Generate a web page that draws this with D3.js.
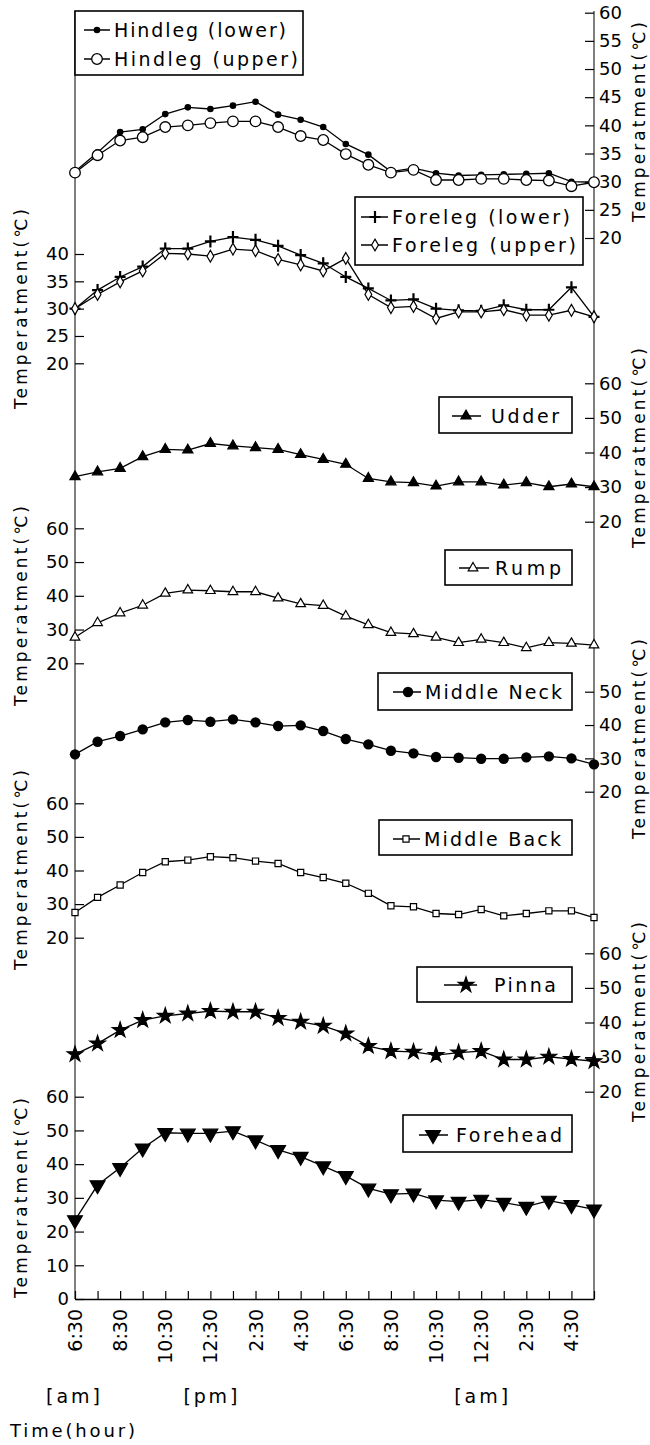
<!DOCTYPE html>
<html><head><meta charset="utf-8">
<script src="https://cdn.jsdelivr.net/npm/d3@7"></script>
<style>
body{margin:0;background:#fff}
svg{display:block}
text{font-family:"DejaVu Sans",Arial,sans-serif;fill:#000}
</style>
</head><body><svg id="c" width="650" height="1445"></svg>
<script>
// ---------- DATA ----------
const categories = ["6:30am","7:30am","8:30am","9:30am","10:30am","11:30am","12:30pm","1:30pm","2:30pm","3:30pm","4:30pm","5:30pm","6:30pm","7:30pm","8:30pm","9:30pm","10:30pm","11:30pm","12:30am","1:30am","2:30am","3:30am","4:30am","5:30am"];
const labelledTimes = ["6:30am","8:30am","10:30am","12:30pm","2:30pm","4:30pm","6:30pm","8:30pm","10:30pm","12:30am","2:30am","4:30am"];
const timeLabels = ["6:30","8:30","10:30","12:30","2:30","4:30","6:30","8:30","10:30","12:30","2:30","4:30"];
const periodLabels = ["[am]","[pm]","[am]"];

const hindlegLower = [31.8,35.2,38.8,39.3,42.0,43.2,42.9,43.5,44.2,41.9,41.0,39.7,36.7,34.8,31.8,32.4,31.5,31.1,31.2,31.3,31.4,31.5,30.0,29.9];
const hindlegUpper = [31.6,34.7,37.3,37.9,39.7,40.0,40.4,40.7,40.7,39.7,38.1,37.4,34.9,33.0,31.6,32.1,30.3,30.3,30.5,30.5,30.3,30.2,29.2,29.9];
const forelegLower = [30.0,33.4,35.8,37.7,41.0,41.0,42.3,43.1,42.6,41.5,39.8,38.3,35.8,33.7,31.5,31.7,30.0,29.7,29.6,30.6,29.8,29.8,33.9,28.5];
const forelegUpper = [30.0,32.6,34.9,36.9,40.1,40.0,39.6,40.9,40.6,39.0,38.0,36.9,39.2,32.6,30.2,30.4,28.2,29.4,29.4,29.8,28.8,28.8,29.7,28.5];
const udder = [33.0,34.4,35.4,38.8,40.9,40.7,42.6,41.9,41.4,40.9,39.4,38.0,36.6,32.5,31.5,31.3,30.3,31.5,31.5,30.6,31.3,30.1,30.9,30.1];
const rump = [27.7,32.0,34.9,37.2,40.7,41.7,41.5,41.2,41.2,39.3,37.6,37.1,34.0,31.4,29.1,28.7,27.7,26.1,27.1,26.1,24.6,26.1,25.9,25.4];
const middleNeck = [31.2,35.0,36.7,38.7,40.8,41.5,41.0,41.7,40.8,39.7,39.9,38.2,35.8,34.2,32.3,31.5,30.4,30.2,29.9,29.9,30.3,30.6,30.0,28.2];
const middleBack = [27.5,32.0,35.7,39.4,42.6,43.1,44.1,43.8,42.8,42.1,39.4,37.9,36.2,33.2,29.5,29.2,27.2,26.9,28.4,26.5,27.2,28.0,28.0,26.0];
const pinna = [30.8,33.9,37.8,40.7,41.9,42.6,43.3,43.1,43.1,41.3,40.2,39.0,36.8,33.2,31.7,31.5,30.6,31.3,31.7,29.3,29.3,30.1,29.4,28.8];
const forehead = [23.4,33.8,38.9,44.7,49.3,49.1,49.1,49.8,47.1,44.2,42.2,39.4,36.5,32.8,31.1,31.3,29.3,28.9,29.5,28.6,27.4,29.2,27.9,26.6];

const ticksHindleg = [20,25,30,35,40,45,50,55,60];
const ticksForeleg = [20,25,30,35,40];
const ticksTen = [20,30,40,50,60];
const ticksNeck = [20,30,40,50];
const ticksForehead = [0,10,20,30,40,50,60];

const yTitle = "Temperatment(\u2103)";
const xTitle = "Time(hour)";

// ---------- LAYOUT ----------
const svg = d3.select("#c");
const X0 = 75, X1 = 594, AXB = 1299;
const x = d3.scalePoint().domain(categories).range([X0, X1]);

const panels = [
  {side:"right", dom:[20,60], rng:[238,12.7], ticks:ticksHindleg, title:122,
   series:[{name:"Hindleg (lower)", v:hindlegLower, m:"dotS"},{name:"Hindleg (upper)", v:hindlegUpper, m:"circO"}],
   legend:{x:75,y:11,w:228,h:64,rows:[30,59],lx:[84,110],mx:97,tx:114,tl:[172,184]}},
  {side:"left", dom:[20,40], rng:[363.3,254], ticks:ticksForeleg, title:309,
   series:[{name:"Foreleg  (lower)", v:forelegLower, m:"plus"},{name:"Foreleg  (upper)", v:forelegUpper, m:"diaO"}],
   legend:{x:355,y:197,w:228,h:68,rows:[217,245],lx:[361,388],mx:375,tx:392,tl:[178,184]}},
  {side:"right", dom:[20,60], rng:[521.7,383.3], ticks:ticksTen, title:448,
   series:[{name:"Udder", v:udder, m:"triF"}],
   legend:{x:439,y:397,w:133,h:36,rows:[416],lx:[452,481],mx:466,tx:491,tl:[68]}},
  {side:"left", dom:[20,60], rng:[663.3,528.3], ticks:ticksTen, title:606,
   series:[{name:"Rump", v:rump, m:"triO"}],
   legend:{x:445,y:550,w:127,h:35,rows:[568],lx:[459,489],mx:473,tx:495,tl:[66]}},
  {side:"right", dom:[20,50], rng:[791.7,691.7], ticks:ticksNeck, title:739,
   series:[{name:"Middle Neck", v:middleNeck, m:"dotL"}],
   legend:{x:378,y:673,w:194,h:37,rows:[692],lx:[393,421],mx:408,tx:425,tl:[137]}},
  {side:"left", dom:[20,60], rng:[937.7,803.3], ticks:ticksTen, title:870,
   series:[{name:"Middle Back", v:middleBack, m:"sqO"}],
   legend:{x:379,y:820,w:193,h:35,rows:[839],lx:[393,420],mx:406,tx:424,tl:[137]}},
  {side:"right", dom:[20,60], rng:[1091.7,953.3], ticks:ticksTen, title:1022,
   series:[{name:"Pinna", v:pinna, m:"star"}],
   legend:{x:417,y:967,w:155,h:35,rows:[985],lx:[444,477],mx:466,tx:494,tl:[62]}},
  {side:"left", dom:[0,60], rng:[AXB,1096.7], ticks:ticksForehead, title:1198,
   series:[{name:"Forehead", v:forehead, m:"triD"}],
   legend:{x:403,y:1115,w:169,h:37,rows:[1135],lx:[419,448],mx:433,tx:456,tl:[106]}}
];

function drawMarker(g, type, cx, cy){
  const t = `translate(${cx},${cy})`;
  const sym = (s, size, fill, rot) => g.append("path")
    .attr("d", d3.symbol().type(s).size(size)())
    .attr("transform", t + (rot ? ` rotate(${rot})` : ""))
    .attr("fill", fill).attr("stroke","#000").attr("stroke-width",1.2);
  switch(type){
    case "dotS": g.append("circle").attr("cx",cx).attr("cy",cy).attr("r",3.3).attr("fill","#000"); break;
    case "circO": g.append("circle").attr("cx",cx).attr("cy",cy).attr("r",5.3).attr("fill","#fff").attr("stroke","#000").attr("stroke-width",1.3); break;
    case "plus": g.append("path").attr("d",`M${cx-5.5},${cy}H${cx+5.5}M${cx},${cy-6}V${cy+6}`).attr("stroke","#000").attr("stroke-width",2.2); break;
    case "diaO": sym(d3.symbolDiamond, 40, "#fff"); break;
    case "triF": sym(d3.symbolTriangle, 45, "#000"); break;
    case "triO": sym(d3.symbolTriangle, 40, "#fff"); break;
    case "dotL": g.append("circle").attr("cx",cx).attr("cy",cy).attr("r",5.2).attr("fill","#000"); break;
    case "sqO": sym(d3.symbolSquare, 38, "#fff"); break;
    case "star": sym(d3.symbolStar, 75, "#000"); break;
    case "triD": sym(d3.symbolTriangle, 95, "#000", 180); break;
  }
}

// vertical frame lines
svg.append("line").attr("x1",X0).attr("x2",X0).attr("y1",11).attr("y2",AXB).attr("stroke","#000").attr("stroke-width",1);
svg.append("line").attr("x1",X1).attr("x2",X1).attr("y1",11).attr("y2",AXB).attr("stroke","#000").attr("stroke-width",1);

panels.forEach(p => {
  const y = d3.scaleLinear().domain(p.dom).range(p.rng);
  const isLeft = p.side === "left";
  const axis = (isLeft ? d3.axisLeft(y) : d3.axisRight(y))
    .tickValues(p.ticks).tickSizeInner(-9).tickSizeOuter(0).tickPadding(isLeft ? 6 : 5).tickFormat(d3.format("d"));
  const ag = svg.append("g").attr("transform", `translate(${isLeft ? X0 : X1},0)`).call(axis);
  ag.select(".domain").remove();
  ag.selectAll(".tick line").attr("stroke","#000").attr("stroke-width",1.2);
  ag.selectAll(".tick text").attr("font-size",18).attr("font-family","DejaVu Sans, Arial, sans-serif").attr("fill","#000");

  // axis title
  const tx = isLeft ? 27 : 645;
  svg.append("text").attr("transform",`translate(${tx},${p.title}) rotate(-90)`)
    .attr("text-anchor","middle").attr("font-size",17)
    .attr("textLength",200).attr("lengthAdjust","spacing").text(yTitle);

  // series
  p.series.forEach(s => {
    const g = svg.append("g");
    const line = d3.line().x((d,i)=>x(categories[i])).y(d=>y(d));
    g.append("path").attr("d", line(s.v)).attr("fill","none").attr("stroke","#000").attr("stroke-width",1.3);
    s.v.forEach((d,i)=> drawMarker(g, s.m, x(categories[i]), y(d)));
  });

  // legend
  const L = p.legend;
  const lg = svg.append("g");
  lg.append("rect").attr("x",L.x).attr("y",L.y).attr("width",L.w).attr("height",L.h)
    .attr("fill","#fff").attr("stroke","#000").attr("stroke-width",1.6);
  p.series.forEach((s,i) => {
    const ry = L.rows[i];
    lg.append("line").attr("x1",L.lx[0]).attr("x2",L.lx[1]).attr("y1",ry).attr("y2",ry).attr("stroke","#000").attr("stroke-width",1.5);
    drawMarker(lg, s.m, L.mx, ry);
    lg.append("text").attr("x",L.tx).attr("y",ry+7).attr("font-size",19)
      .attr("textLength",L.tl[i]).attr("lengthAdjust","spacing").text(s.name.trim());
  });
});

// x axis
const xa = svg.append("g").attr("transform",`translate(0,${AXB})`)
  .call(d3.axisBottom(x).tickSizeInner(-8).tickSizeOuter(0).tickFormat(""));
xa.select(".domain").attr("stroke","#000").attr("stroke-width",1.4);
xa.selectAll(".tick line").attr("stroke","#000").attr("stroke-width",1.2);

svg.append("g").selectAll("text").data(labelledTimes).join("text")
  .attr("transform",(d)=>`translate(${x(d)+7},${AXB+10}) rotate(-90)`)
  .attr("text-anchor","end").attr("font-size",19)
  .text((d,i)=>timeLabels[i]);

const periodAt = ["6:30am","12:30pm","12:30am"];
svg.append("g").selectAll("text").data(periodLabels).join("text")
  .attr("x",(d,i)=>x(periodAt[i]) - (i===0?2:0)).attr("y",1403).attr("text-anchor","middle")
  .attr("font-size",19).attr("textLength",54).attr("lengthAdjust","spacing").text(d=>d);

svg.append("text").attr("x",10).attr("y",1437).attr("font-size",18)
  .attr("textLength",125).attr("lengthAdjust","spacing").text(xTitle);
</script>
</body></html>
